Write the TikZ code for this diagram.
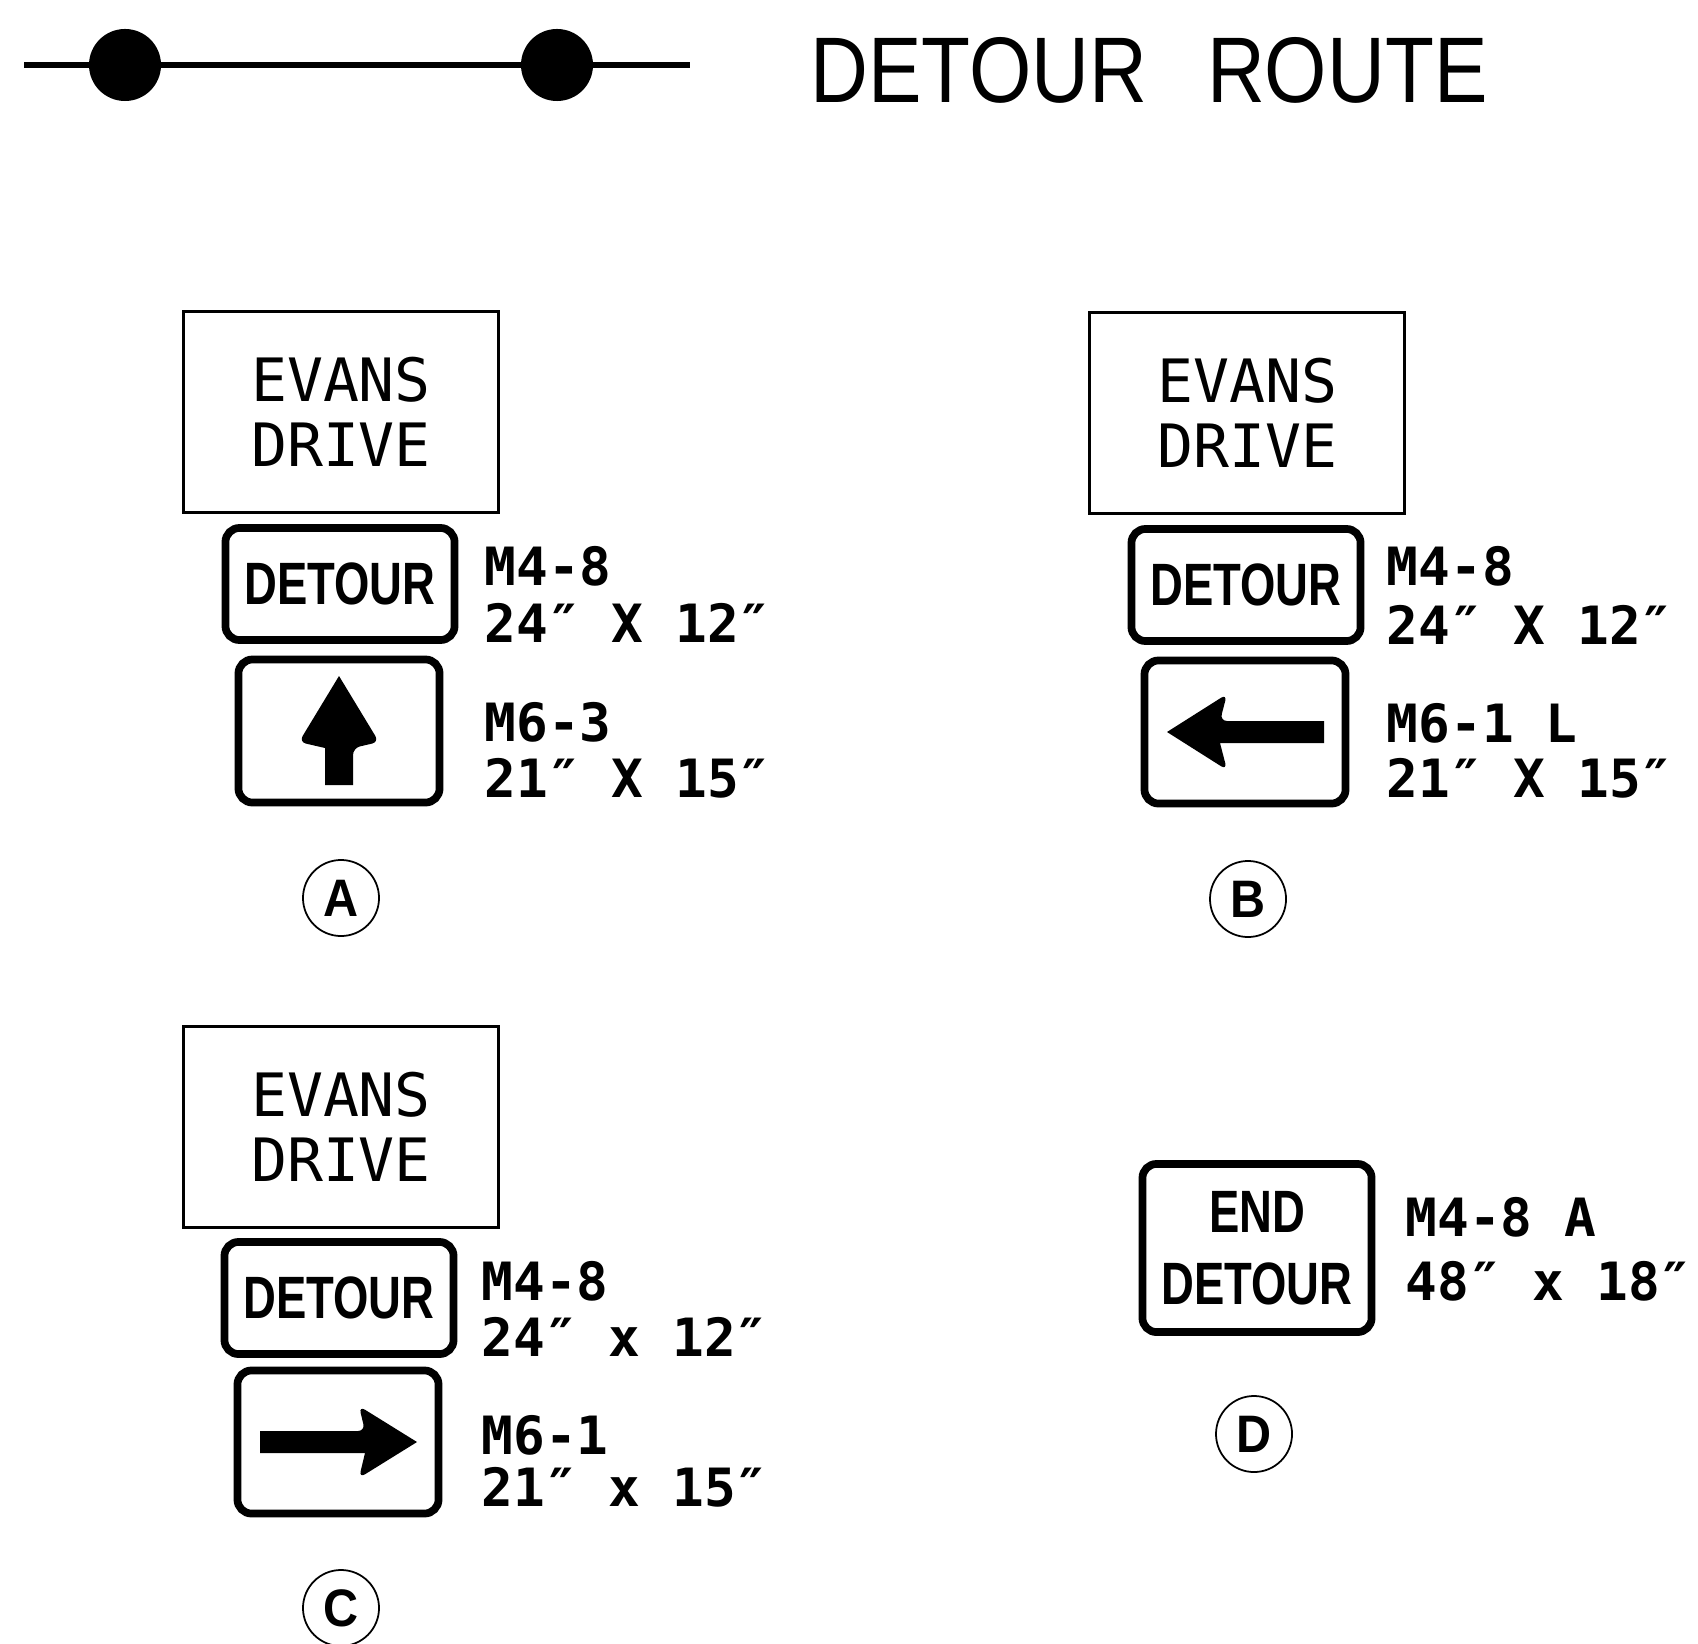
\documentclass[tikz,border=0pt]{standalone}
\usepackage{fontspec}
\setmainfont{Liberation Sans}
\newfontfamily\signmono{DejaVu Sans Mono}
\newfontfamily\signcond[FakeStretch=0.76]{Liberation Sans}
\newfontfamily\titlefont[FakeStretch=0.86]{Liberation Sans}
\newfontfamily\tagfont[FakeStretch=0.92]{Liberation Sans}

\begin{document}
\begin{tikzpicture}[
    x=0.01cm, y=-0.01cm,
    namebox/.style={rectangle, draw=black, line width=0.85pt, minimum width=3.15cm, minimum height=2.01cm, align=center, font=\signmono\fontsize{17}{18.5}\selectfont},
    signbox/.style={rectangle, draw=black, line width=2.2pt, rounded corners=4pt, align=center, font=\signcond\bfseries\fontsize{17}{20.5}\selectfont},
    spec/.style={anchor=base west, inner sep=0pt, font=\signmono\bfseries\fontsize{15}{18}\selectfont},
    tag/.style={circle, draw=black, line width=0.5pt, minimum size=0.76cm, inner sep=0pt, font=\tagfont\bfseries\fontsize{15}{16}\selectfont},
    dot/.style={circle, fill=black, minimum size=0.72cm, inner sep=0pt},
]
\useasboundingbox (0,0) rectangle (1698,1643);

% Legend line and title
\coordinate (lineL) at (24,65);
\coordinate (lineR) at (690,65);
\draw[line width=1.7pt] (lineL) -- (lineR);
\node[dot] (dotL) at (125,65) {};
\node[dot] (dotR) at (557,65) {};
\node[font=\titlefont\fontsize{26.5}{28}\selectfont] (title) at (1149,70) {DETOUR\hspace{17pt}ROUTE};

% Sign A (straight ahead)
\node[namebox] (evansA) at (341,412) {EVANS\\DRIVE};
\node[signbox, minimum width=2.29cm, minimum height=1.12cm] (detA) at (340,584) {DETOUR};
\node[signbox, minimum width=2.01cm, minimum height=1.43cm] (arrA) at (339,731) {};
\begin{scope}[shift={(arrA.center)}]
\fill (0,-55) [rounded corners=2pt] -- (40,11) -- (14,17) [sharp corners] -- (14,54) -- (-14,54) -- (-14,17) [rounded corners=2pt] -- (-40,11) [sharp corners] -- cycle;
\end{scope}
\node[spec] (codeA1) at (484,585) {M4-8};
\node[spec] (sizeA1) at (484,642) {24″ X 12″};
\node[spec] (codeA2) at (484,741) {M6-3};
\node[spec] (sizeA2) at (484,797) {21″ X 15″};
\node[tag] (tagA) at (341,898) {A};

% Sign B (left)
\node[namebox] (evansB) at (1247,413) {EVANS\\DRIVE};
\node[signbox, minimum width=2.29cm, minimum height=1.12cm] (detB) at (1246,585) {DETOUR};
\node[signbox, minimum width=2.01cm, minimum height=1.43cm] (arrB) at (1245,732) {};
\begin{scope}[shift={(arrB.center)}]
\fill (-78,0) [rounded corners=2pt] -- (-18,-38) -- (-25,-11) [sharp corners] -- (79,-11) -- (79,11) -- (-25,11) [rounded corners=2pt] -- (-18,38) [sharp corners] -- cycle;
\end{scope}
\node[spec] (codeB1) at (1386,585) {M4-8};
\node[spec] (sizeB1) at (1386,644) {24″ X 12″};
\node[spec] (codeB2) at (1386,742) {M6-1 L};
\node[spec] (sizeB2) at (1386,797) {21″ X 15″};
\node[tag] (tagB) at (1248,899) {B};

% Sign C (right)
\node[namebox] (evansC) at (341,1127) {EVANS\\DRIVE};
\node[signbox, minimum width=2.29cm, minimum height=1.12cm] (detC) at (339,1298) {DETOUR};
\node[signbox, minimum width=2.01cm, minimum height=1.43cm] (arrC) at (338,1442) {};
\begin{scope}[shift={(arrC.center)}]
\fill (79,0) [rounded corners=2pt] -- (21,-36) -- (27,-11) [sharp corners] -- (-78,-11) -- (-78,11) -- (27,11) [rounded corners=2pt] -- (21,36) [sharp corners] -- cycle;
\end{scope}
\node[spec] (codeC1) at (481,1300) {M4-8};
\node[spec] (sizeC1) at (481,1356) {24″ x 12″};
\node[spec] (codeC2) at (481,1454) {M6-1};
\node[spec] (sizeC2) at (481,1506) {21″ x 15″};
\node[tag] (tagC) at (341,1608) {C};

% Sign D (end of detour)
\node[signbox, minimum width=2.29cm, minimum height=1.68cm] (endD) at (1257,1248) {END\\DETOUR};
\node[spec] (codeD1) at (1405,1236) {M4-8 A};
\node[spec] (sizeD1) at (1405,1300) {48″ x 18″};
\node[tag] (tagD) at (1254,1434) {D};

\end{tikzpicture}
\end{document}
